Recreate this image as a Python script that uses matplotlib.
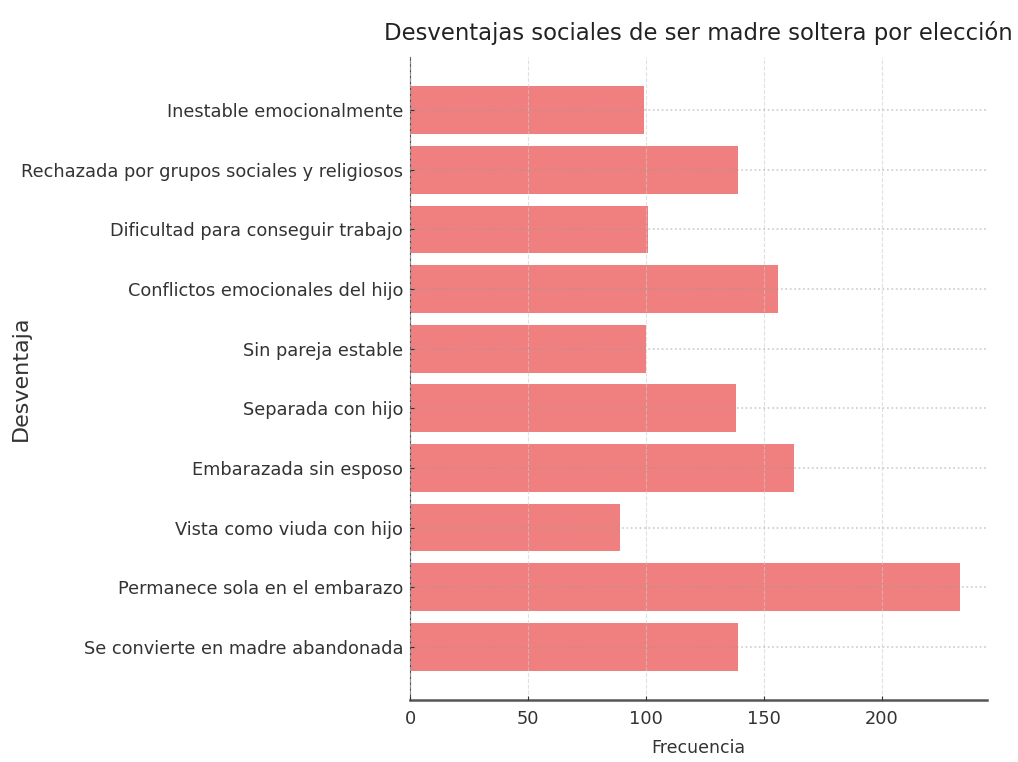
import matplotlib
matplotlib.use('Agg')
import matplotlib.pyplot as plt

# datos (de abajo hacia arriba)
desventajas = [
    'Se convierte en madre abandonada',
    'Permanece sola en el embarazo',
    'Vista como viuda con hijo',
    'Embarazada sin esposo',
    'Separada con hijo',
    'Sin pareja estable',
    'Conflictos emocionales del hijo',
    'Dificultad para conseguir trabajo',
    'Rechazada por grupos sociales y religiosos',
    'Inestable emocionalmente',
]
frecuencia = [139, 233, 89, 163, 138, 100, 156, 101, 139, 99]
xticks = [0, 50, 100, 150, 200]

fig = plt.figure(figsize=(10.18, 7.62), dpi=100)
ax = fig.add_axes([0.4028, 0.0814, 0.5668, 0.8438])

ax.barh(desventajas, frecuencia, height=0.8, color='lightcoral', zorder=1)

ax.set_axisbelow(False)
ax.grid(axis='x', linestyle='--', color='#cccccc', linewidth=0.8, alpha=0.6)
ax.grid(axis='y', linestyle=':', color='#999999', linewidth=1.2, alpha=0.5)

ax.set_xticks(xticks)
ax.tick_params(axis='both', direction='in', length=3, color='#333333',
               labelsize=12.8, labelcolor='#333333', pad=5)
ax.tick_params(axis='x', pad=7)

ax.spines[['top', 'right']].set_visible(False)
ax.spines['left'].set_color('#444444')
ax.spines['bottom'].set_color('#555555')
ax.spines['bottom'].set_linewidth(1.8)

ax.set_title('Desventajas sociales de ser madre soltera por elección',
             fontsize=16.4, color='#222222', pad=12)
ax.set_xlabel('Frecuencia', fontsize=12.5, color='#333333', labelpad=8)
ax.set_ylabel('Desventaja', fontsize=16, color='#333333')
ax.yaxis.set_label_coords(-0.657, 0.5)

plt.savefig('out.png', dpi=100, facecolor='white')
plt.close()
